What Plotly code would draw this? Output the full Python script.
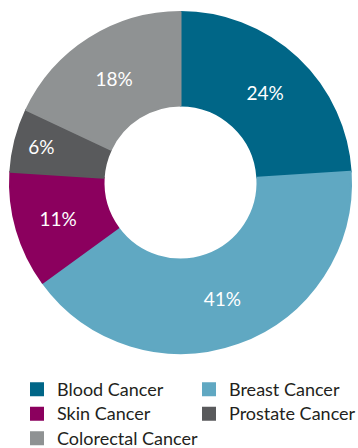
import plotly.graph_objects as go

labels = ["Blood Cancer", "Breast Cancer", "Skin Cancer", "Prostate Cancer", "Colorectal Cancer"]
values = [24, 41, 11, 6, 18]
colors = ["#006687", "#60a8c2", "#8b005e", "#595a5c", "#8f9293"]

W, H = 358, 448
cx, cy, r = 180.5, 182.5, 170.5

legend_labels = ['<span style="font-size:18px">%s</span>' % s for s in labels]

fig = go.Figure(go.Pie(
    labels=legend_labels, values=values, sort=False, direction="clockwise", rotation=0,
    hole=77 / 170.5, marker=dict(colors=colors, line=dict(width=2, color=colors)),
    textinfo="percent", textposition="inside", insidetextorientation="horizontal",
    textfont=dict(color="white", size=19, family="Lato"),
    hoverinfo="percent",
    domain=dict(x=[(cx - r) / W, (cx + r) / W], y=[1 - (cy + r) / H, 1 - (cy - r) / H]),
))
fig.update_layout(
    width=W, height=H, margin=dict(l=0, r=0, t=0, b=0, autoexpand=False),
    paper_bgcolor="white", plot_bgcolor="white",
    font=dict(family="Lato", size=16.5, color="#231f20"),
    legend=dict(orientation="h", x=17 / W, xanchor="left", y=1 - 372 / H, yanchor="top",
                font=dict(size=16.5), entrywidth=127, entrywidthmode="pixels",
                itemclick=False, itemdoubleclick=False),
)
fig.write_html("out.html")
